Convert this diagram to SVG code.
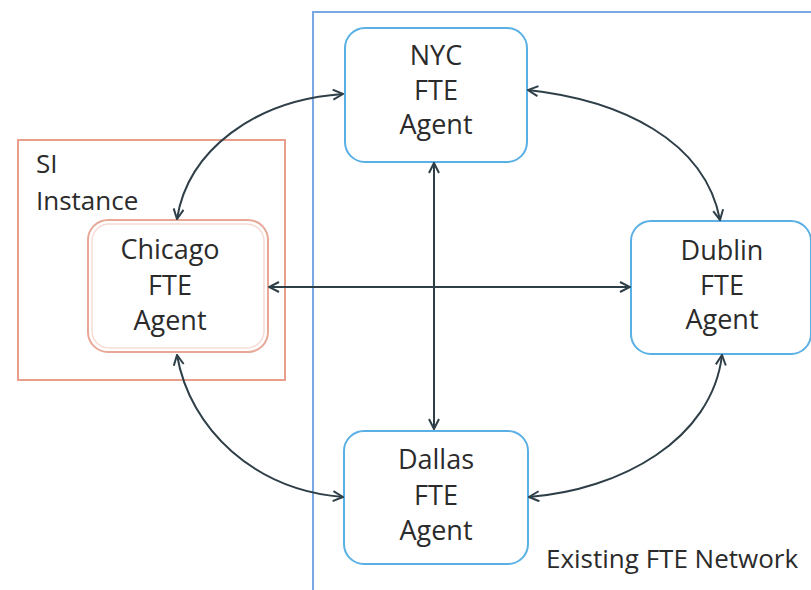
<svg xmlns="http://www.w3.org/2000/svg" width="811" height="590" viewBox="0 0 811 590">
<style>
.lbl{font-family:"Open Sans","Liberation Sans",Arial,sans-serif;font-size:27px;fill:#2b2b2b;text-anchor:middle}
.lblL{font-family:"Open Sans","Liberation Sans",Arial,sans-serif;font-size:26px;fill:#2b2b2b}
.blue{fill:#fff;stroke:#5ab0e4;stroke-width:2}
.con{fill:none;stroke:#2e3f48;stroke-width:2;marker-start:url(#ah);marker-end:url(#ah)}
</style>
<defs>
<marker id="ah" viewBox="0 0 12 12" refX="11" refY="6" markerWidth="12" markerHeight="12" markerUnits="userSpaceOnUse" orient="auto-start-reverse">
<path d="M1,1 L11,6 L1,11" fill="none" stroke="#2e3f48" stroke-width="2"/>
</marker>
</defs>
<rect width="811" height="590" fill="#fff"/>
<g id="network">
<path d="M313,590 L313,12 L811,12" fill="none" stroke="#7aa8e2" stroke-width="2"/>
<text class="lblL" x="546" y="568">Existing FTE Network</text>
</g>
<g id="si-instance">
<rect x="18" y="140" width="267" height="240" fill="none" stroke="#e8a08c" stroke-width="2"/>
<text class="lblL" x="36" y="173">SI</text>
<text class="lblL" x="36" y="210">Instance</text>
</g>
<g id="chicago">
<rect x="88" y="220" width="180" height="132" rx="20" fill="#fff" stroke="#e8a896" stroke-width="2"/>
<rect x="92" y="224" width="172" height="124" rx="17" fill="none" stroke="#f6dcd4" stroke-width="1.5"/>
<text class="lbl" x="170" y="259">Chicago</text>
<text class="lbl" x="170" y="295">FTE</text>
<text class="lbl" x="170" y="330">Agent</text>
</g>
<g id="nyc">
<rect class="blue" x="345" y="28" width="182" height="134" rx="20"/>
<text class="lbl" x="436" y="65">NYC</text>
<text class="lbl" x="436" y="100">FTE</text>
<text class="lbl" x="436" y="134">Agent</text>
</g>
<g id="dublin">
<rect class="blue" x="631" y="221" width="180" height="133" rx="20"/>
<text class="lbl" x="722" y="260">Dublin</text>
<text class="lbl" x="722" y="295">FTE</text>
<text class="lbl" x="722" y="329">Agent</text>
</g>
<g id="dallas">
<rect class="blue" x="344" y="431" width="184" height="133" rx="20"/>
<text class="lbl" x="436" y="469">Dallas</text>
<text class="lbl" x="436" y="505">FTE</text>
<text class="lbl" x="436" y="540">Agent</text>
</g>
<g id="connectors">
<path class="con" d="M177,219 C188,150 255,100 343,94"/>
<path class="con" d="M177,355 C190,430 255,490 343,497"/>
<path class="con" d="M528,90 C620,100 705,140 720,220"/>
<path class="con" d="M722,355 C712,440 620,490 529,497"/>
<path class="con" d="M434,163 L434,429"/>
<path class="con" d="M269,287 L630,287"/>
</g>
</svg>
